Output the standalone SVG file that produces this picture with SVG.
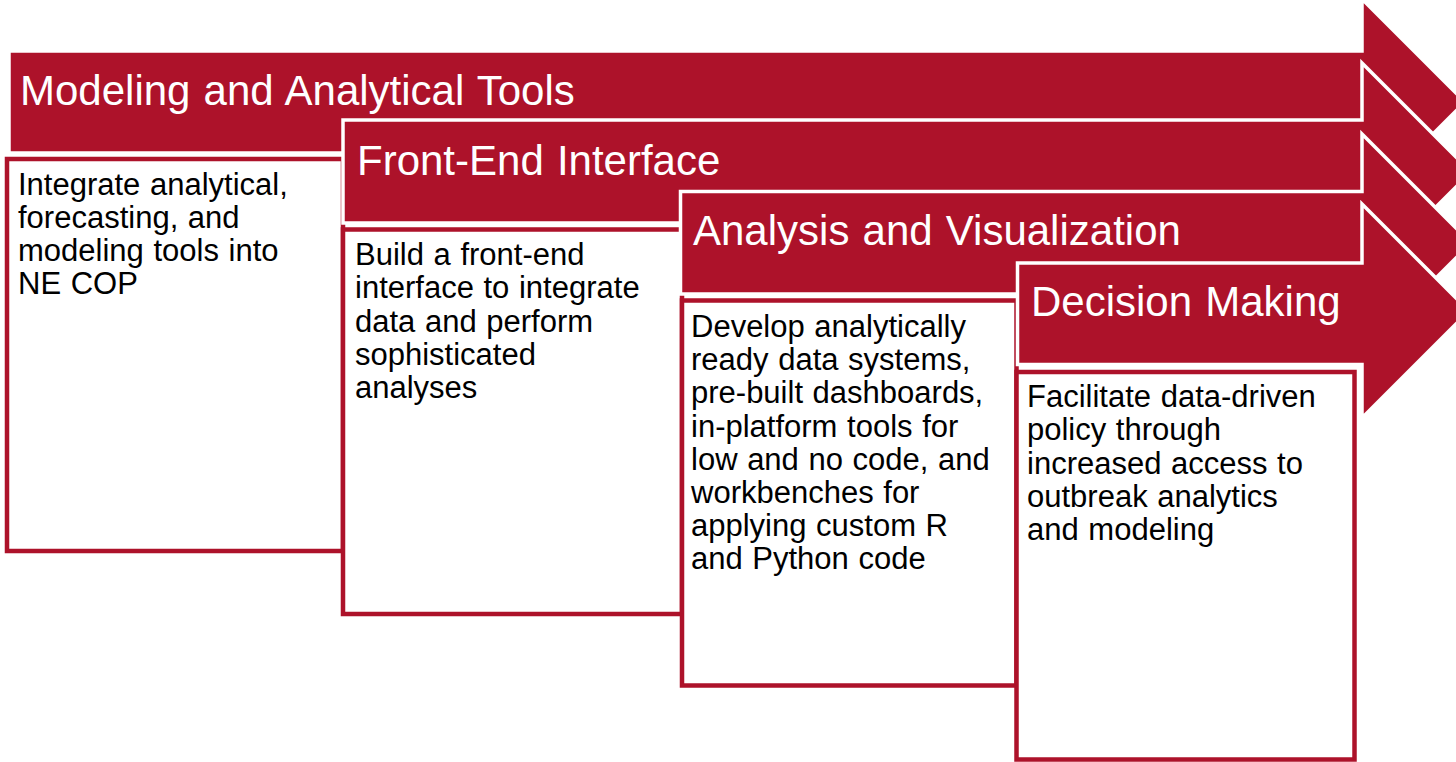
<svg xmlns="http://www.w3.org/2000/svg" width="1456" height="762" viewBox="0 0 1456 762">
<style>
.arrow{fill:#AD122A;stroke:#FFFFFF;stroke-width:3.5;stroke-linejoin:miter}
.box{fill:#FFFFFF;stroke:#AD122A;stroke-width:4.5}
.head{font-family:"Liberation Sans",Arial,sans-serif;font-size:42px;fill:#FFFFFF;word-spacing:1.5px}
.body{font-family:"Liberation Sans",Arial,sans-serif;font-size:31px;fill:#000000;word-spacing:1px}
</style>
<rect width="1456" height="762" fill="#FFFFFF"/>
<g id="step1">
<polygon class="arrow" points="9,51 1362,51 1362,-1 1465,102 1362,205 1362,153 9,153"/>
<text class="head" x="20" y="105">Modeling and Analytical Tools</text>
<rect class="box" x="7" y="159" width="336" height="392"/>
<text class="body"><tspan x="18" y="195">Integrate analytical,</tspan><tspan x="18" y="228">forecasting, and</tspan><tspan x="18" y="261">modeling tools into</tspan><tspan x="18" y="294">NE COP</tspan></text>
</g>
<g id="step2">
<polygon class="arrow" points="343,120 1362,120 1362,63 1471,172 1362,281 1362,223 343,223"/>
<text class="head" x="357" y="175">Front-End Interface</text>
<rect class="box" x="343" y="229.5" width="339" height="384.5"/>
<text class="body"><tspan x="355" y="265">Build a front-end</tspan><tspan x="355" y="298">interface to integrate</tspan><tspan x="355" y="331.5">data and perform</tspan><tspan x="355" y="365">sophisticated</tspan><tspan x="355" y="398">analyses</tspan></text>
</g>
<g id="step3">
<polygon class="arrow" points="680.5,191.5 1362,191.5 1362,134 1471,243 1362,352 1362,294 680.5,294"/>
<text class="head" x="693" y="245">Analysis and Visualization</text>
<rect class="box" x="682" y="300.5" width="334.5" height="385"/>
<text class="body"><tspan x="691" y="337">Develop analytically</tspan><tspan x="691" y="370">ready data systems,</tspan><tspan x="691" y="403">pre-built dashboards,</tspan><tspan x="691" y="436.5">in-platform tools for</tspan><tspan x="691" y="469.5">low and no code, and</tspan><tspan x="691" y="503">workbenches for</tspan><tspan x="691" y="536">applying custom R</tspan><tspan x="691" y="569">and Python code</tspan></text>
</g>
<g id="step4">
<polygon class="arrow" points="1017.5,263 1362,263 1362,204 1469,311 1362,418 1362,364.5 1017.5,364.5"/>
<text class="head" x="1031" y="316">Decision Making</text>
<rect class="box" x="1016.5" y="372" width="338" height="387.5"/>
<text class="body"><tspan x="1027" y="407">Facilitate data-driven</tspan><tspan x="1027" y="440">policy through</tspan><tspan x="1027" y="473.5">increased access to</tspan><tspan x="1027" y="507">outbreak analytics</tspan><tspan x="1027" y="540">and modeling</tspan></text>
</g>
<g id="connectors"></g>
</svg>
